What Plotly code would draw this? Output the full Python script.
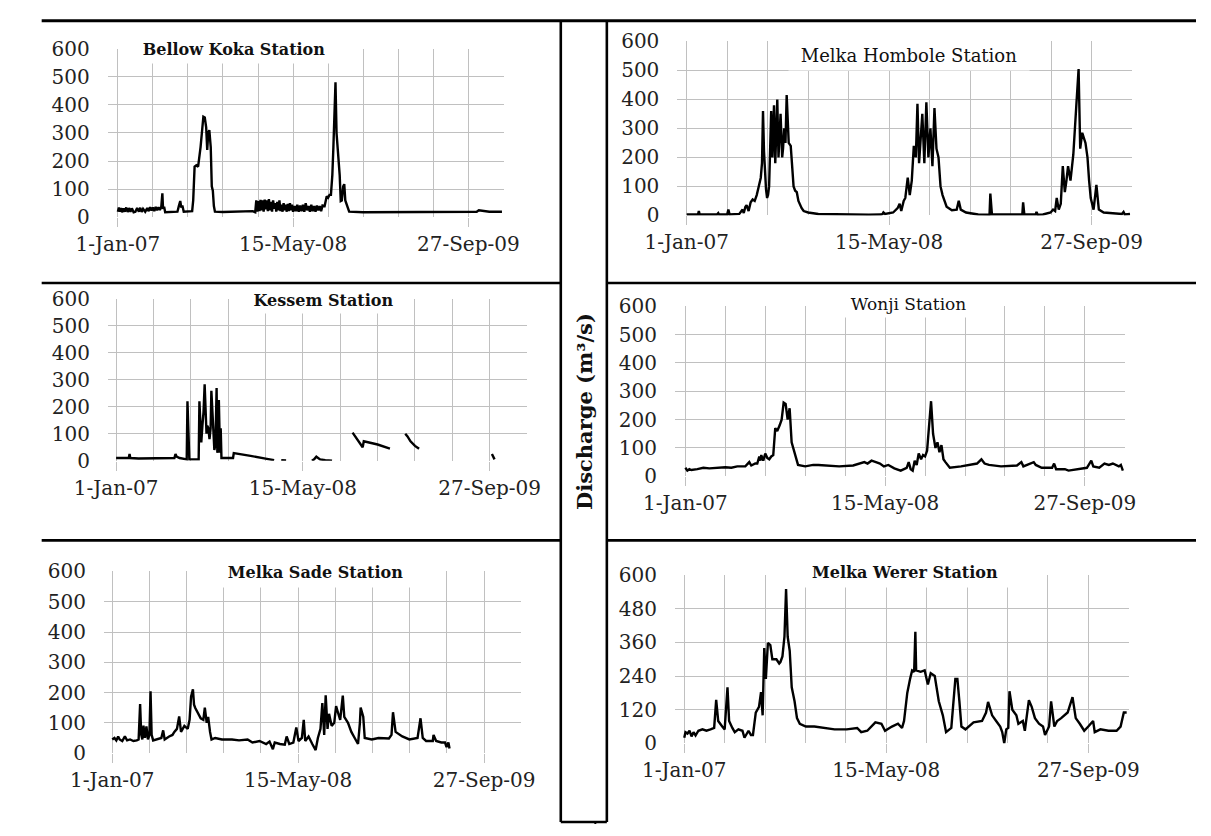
import plotly.graph_objects as go
import pandas as pd

W, H = 1211, 836
BASE = pd.Timestamp("2007-01-01")

# ---------------- data (day offset from 1-Jan-07, discharge m3/s) ----------------
koka_day = [0, 3, 6, 9, 12, 16, 20, 24, 28, 32, 36, 40, 45, 50, 55, 60, 64, 68, 72, 78, 84, 88, 92, 96, 100, 104,
            108, 112, 116, 120, 124, 127, 129, 132, 135, 150, 170, 174, 178, 181, 184, 188, 200, 212, 215, 217, 219,
            224, 229, 236, 241, 244, 248, 252, 255, 258, 261, 265, 268, 271, 274, 277, 300, 350, 385, 392, 395, 398,
            401, 404, 407, 410, 413, 416, 419, 422, 425, 428, 431, 434, 437, 440, 443, 446, 449, 452, 455, 458, 461,
            464, 467, 470, 473, 476, 479, 482, 485, 488, 491, 494, 497, 500, 504, 508, 512, 516, 520, 524, 528, 532,
            536, 540, 544, 548, 552, 556, 560, 564, 568, 572, 576, 580, 584, 590, 596, 600, 604, 608, 612, 615, 618,
            621, 624, 627, 630, 633, 636, 639, 643, 646, 649, 660, 700, 800, 900, 1000, 1024, 1030, 1060, 1096]
koka_q = [20, 35, 20, 33, 18, 32, 20, 35, 19, 33, 20, 32, 18, 20, 33, 20, 34, 19, 30, 20, 33, 22, 36, 24, 35, 22,
          37, 25, 36, 26, 38, 85, 30, 38, 18, 18, 20, 40, 58, 35, 42, 20, 20, 22, 60, 175, 180, 185, 180, 250, 330,
          358, 355, 320, 240, 300, 310, 250, 110, 95, 40, 20, 19, 20, 22, 18, 60, 20, 58, 22, 62, 25, 60, 20, 63, 28,
          60, 22, 65, 25, 55, 20, 60, 30, 50, 20, 55, 25, 60, 22, 45, 20, 50, 25, 45, 20, 48, 22, 50, 25, 45, 20, 40,
          22, 45, 20, 42, 22, 45, 20, 50, 25, 40, 20, 45, 22, 40, 20, 42, 25, 40, 22, 42, 40, 75, 70, 80, 80, 150,
          250, 420, 480, 300, 250, 230, 150, 58, 60, 110, 118, 60, 20, 18, 18, 18, 19, 20, 25, 20, 20, 18]

kessem_day = [0, 20, 34, 36, 38, 60, 100, 140, 156, 159, 162, 170, 186, 189, 191, 194, 196, 210, 221, 223, 226,
              228, 231, 234, 237, 240, 242, 244, 247, 250, 253, 255, 258, 260, 263, 266, 269, 271, 273, 275, 277,
              278, 280, 282, 300, 313, 315, 330, 360, 400, 423, 430, 442, 455, 490, 524, 530, 536, 540, 546, 560,
              578, 600, 633, 645, 660, 663, 700, 733, 750, 774, 780, 788, 800, 811, 900, 1006, 1010, 1013]
kessem_q = [10, 10, 10, 25, 10, 8, 8, 8, 10, 25, 15, 10, 8, 5, 220, 100, 5, 5, 5, 220, 100, 68, 130, 180, 283, 150,
            100, 130, 120, 80, 120, 259, 150, 110, 40, 60, 269, 30, 40, 225, 60, 30, 120, 10, 10, 10, 28, 25, 18, 8,
            2, None, 2, 1, None, 0, 5, 15, 10, 5, 2, 0, None, 104, 80, 50, 72, 60, 45, None, 100, 90, 72, 55, 44,
            None, 25, 15, 5]

sade_day = [0, 6, 11, 16, 20, 27, 34, 40, 48, 57, 66, 71, 75, 78, 81, 84, 88, 92, 96, 100, 103, 106, 110, 121, 132,
            137, 141, 153, 162, 167, 174, 180, 185, 194, 203, 208, 212, 217, 220, 223, 231, 238, 245, 249, 254, 258,
            263, 267, 277, 295, 322, 341, 364, 377, 396, 414, 423, 432, 437, 451, 464, 469, 476, 487, 495, 501, 510,
            515, 519, 528, 538, 547, 553, 560, 565, 570, 574, 579, 583, 590, 597, 602, 608, 613, 620, 624, 634, 643,
            652, 661, 666, 668, 675, 679, 698, 716, 744, 751, 755, 762, 780, 799, 821, 826, 829, 835, 844, 862, 864,
            871, 885, 895, 899, 904, 907]
sade_q = [45, 50, 42, 55, 45, 40, 55, 42, 45, 40, 42, 45, 162, 60, 45, 91, 50, 88, 45, 60, 204, 60, 42, 45, 50, 75,
          45, 55, 60, 70, 80, 121, 70, 90, 80, 110, 186, 211, 160, 150, 130, 115, 110, 150, 100, 120, 70, 45, 50, 45,
          45, 42, 45, 35, 40, 30, 38, 13, 35, 30, 28, 55, 30, 35, 85, 40, 50, 110, 40, 55, 30, 10, 50, 80, 165, 60,
          191, 80, 130, 90, 100, 155, 130, 110, 190, 120, 100, 70, 50, 30, 100, 150, 120, 50, 45, 50, 48, 60, 135,
          70, 55, 45, 50, 90, 115, 50, 40, 40, 60, 40, 35, 35, 20, 35, 15]

hombole_day = [0, 28, 30, 32, 75, 78, 80, 100, 103, 106, 130, 138, 141, 145, 148, 153, 158, 163, 168, 173, 178, 183,
               186, 188.5, 191, 193.5, 196, 198.6, 201, 203.6, 206, 208.7, 211.7, 215.7, 218.8, 221, 223.8, 226.8,
               229, 231.9, 235.9, 238, 240.9, 244, 247, 250, 252, 257, 260, 264, 268, 272, 276, 279, 284, 289, 300,
               325, 375, 450, 480, 484, 486, 490, 510, 516, 521, 526, 530, 536, 540, 546, 551, 556, 561, 566, 570,
               574, 578, 582, 587, 592, 597, 602, 607, 612, 617, 622, 627, 632, 642, 655, 667, 672, 677, 690, 720,
               748, 750, 754, 800, 829, 831, 834, 862, 864, 867, 880, 899, 905, 910, 914, 919, 924, 929, 934, 938,
               942, 948, 955, 962, 968, 972, 977, 985, 990, 994, 998, 1005, 1012, 1018, 1030, 1075, 1079, 1082, 1095]
hombole_q = [3, 3, 15, 3, 3, 8, 3, 3, 20, 3, 5, 20, 8, 30, 35, 15, 45, 55, 50, 70, 100, 130, 180, 360, 220, 150, 90,
             60, 70, 100, 200, 360, 200, 380, 180, 300, 400, 200, 250, 350, 200, 230, 300, 250, 415, 260, 250, 240,
             180, 100, 85, 80, 50, 40, 25, 15, 10, 5, 3, 2, 3, 5, 10, 5, 10, 20, 25, 40, 15, 50, 60, 130, 70, 120,
             240, 200, 385, 180, 250, 350, 180, 390, 200, 300, 170, 370, 230, 200, 100, 70, 30, 18, 20, 50, 20, 10,
             3, 2, 75, 3, 3, 3, 45, 3, 3, 12, 2, 3, 10, 20, 15, 60, 20, 40, 170, 80, 120, 170, 120, 210, 370, 505,
             230, 285, 250, 200, 120, 60, 20, 105, 20, 10, 5, 12, 3, 5]

wonji_day = [0, 5, 10, 15, 30, 45, 60, 80, 100, 115, 130, 150, 160, 165, 175, 180, 185, 188, 190, 195, 200, 205, 210,
             215, 220, 225, 230, 236, 241, 246, 251, 256, 261, 266, 272, 282, 300, 320, 333, 350, 385, 420, 436, 448,
             456, 466, 477, 487, 497, 508, 523, 539, 554, 559, 564, 569, 574, 579, 584, 590, 595, 600, 605, 610, 615,
             620, 626, 631, 636, 641, 646, 651, 662, 690, 730, 741, 749, 760, 790, 830, 841, 846, 866, 872, 877, 892,
             918, 923, 928, 950, 959, 985, 1005, 1016, 1021, 1036, 1049, 1060, 1070, 1085, 1090, 1095]
wonji_q = [30, 20, 25, 22, 25, 30, 28, 30, 32, 30, 35, 35, 50, 38, 45, 45, 70, 55, 75, 55, 80, 65, 60, 70, 75, 170,
           160, 180, 200, 260, 255, 200, 240, 120, 90, 40, 35, 40, 40, 38, 35, 38, 45, 50, 45, 55, 50, 45, 35, 40, 28,
           20, 30, 50, 25, 20, 55, 40, 81, 60, 75, 70, 90, 170, 265, 150, 100, 120, 85, 110, 60, 50, 30, 35, 45, 60,
           45, 40, 35, 38, 50, 35, 45, 50, 40, 30, 30, 45, 25, 25, 20, 25, 30, 55, 35, 30, 45, 40, 45, 35, 40, 20]

werer_day = [0, 3, 8, 13, 18, 23, 28, 35, 45, 55, 65, 74, 79, 84, 94, 100, 107, 111, 119, 125, 134, 144, 149, 159,
             165, 170, 177, 185, 190, 194, 198, 202, 207, 213, 218, 228, 235, 238, 243, 248, 252, 256, 261, 266, 273,
             279, 286, 301, 322, 342, 372, 402, 428, 438, 453, 473, 488, 497, 514, 529, 539, 544, 552, 559, 564, 569,
             572, 574, 585, 595, 603, 610, 620, 630, 640, 648, 661, 671, 676, 681, 686, 696, 716, 737, 747, 752, 762,
             772, 782, 787, 792, 797, 802, 805, 812, 822, 827, 838, 843, 853, 860, 868, 878, 888, 893, 903, 908, 916,
             923, 933, 949, 961, 969, 979, 990, 1000, 1012, 1016, 1030, 1050, 1070, 1080, 1088, 1095]
werer_q = [20, 40, 35, 45, 25, 40, 28, 45, 50, 45, 50, 55, 155, 80, 60, 50, 200, 80, 55, 40, 50, 45, 20, 45, 30, 30,
           110, 130, 183, 100, 340, 230, 358, 350, 300, 300, 285, 290, 310, 381, 550, 380, 330, 200, 150, 90, 70, 60,
           60, 55, 50, 50, 55, 40, 45, 75, 70, 45, 60, 70, 55, 80, 180, 230, 260, 255, 398, 260, 255, 260, 210, 250,
           240, 150, 100, 40, 55, 230, 230, 150, 60, 50, 75, 80, 110, 148, 100, 80, 60, 40, 0, 50, 55, 186, 120, 100,
           70, 80, 45, 154, 130, 90, 70, 60, 30, 60, 150, 60, 80, 90, 110, 165, 90, 70, 45, 60, 80, 40, 50, 45, 45,
           60, 110, 110]

y_ticks_std = [0, 100, 200, 300, 400, 500, 600]
y_ticks_werer = [0, 120, 240, 360, 480, 600]
x_tick_days = [0, 500, 1000]
x_tick_labels = ["1-Jan-07", "15-May-08", "27-Sep-09"]

# ---------------- layout config ----------------
SERIF = "DejaVu Serif"
GRID = "#c0c0c0"
DAY_MS = 86400000

panels = [
    dict(name="Bellow Koka Station", d=koka_day, q=koka_q, box=(76.8, 489.3, 37.7, 211.4), x0=-29,
         tbox=(105, 311, 24, 52), bold=True, tsize=16, yt=y_ticks_std),
    dict(name="Kessem Station", d=kessem_day, q=kessem_q, box=(77, 514, 295, 462), x0=-22,
         tbox=(221, 382, 285, 310), bold=True, tsize=16, yt=y_ticks_std),
    dict(name="Melka Sade Station", d=sade_day, q=sade_q, box=(73, 508, 576, 763), x0=-22,
         tbox=(198, 389, 563, 592), bold=True, tsize=16, yt=y_ticks_std),
    dict(name="Melka Hombole Station", d=hombole_day, q=hombole_q, box=(670.5, 1144.5, 30.3, 209.4), x0=-23,
         tbox=(792, 1032, 30, 59), bold=False, tsize=18, yt=y_ticks_std),
    dict(name="Wonji Station", d=wonji_day, q=wonji_q, box=(668, 1137, 303, 478), x0=-26,
         tbox=(840, 983, 287, 314), bold=False, tsize=17, yt=y_ticks_std),
    dict(name="Melka Werer Station", d=werer_day, q=werer_q, box=(668, 1141, 579.7, 753), x0=-23,
         tbox=(801, 1015, 562, 592), bold=True, tsize=16, yt=y_ticks_werer),
]

fig = go.Figure()
layout = dict(width=W, height=H, margin=dict(l=0, r=0, t=0, b=0), paper_bgcolor="white",
              plot_bgcolor="white", showlegend=False)
annotations = []

for i, p in enumerate(panels, start=1):
    l, r, t, b = p["box"]
    dates = BASE + pd.to_timedelta(p["d"], unit="D")
    fig.add_trace(go.Scatter(x=dates, y=p["q"], mode="lines", connectgaps=False,
                             line=dict(color="black", width=2.4), hoverinfo="skip",
                             xaxis=f"x{i}", yaxis=f"y{i}"))
    layout[f"xaxis{i}"] = dict(
        domain=[l / W, r / W], anchor=f"y{i}", type="date",
        range=[BASE + pd.Timedelta(days=p["x0"]), BASE + pd.Timedelta(days=1100.4)],
        tickmode="array", tickvals=[BASE + pd.Timedelta(days=v) for v in x_tick_days],
        ticktext=x_tick_labels, ticks="outside", ticklen=9, tickwidth=1.3, tickcolor=GRID,
        showgrid=True, gridcolor=GRID, gridwidth=1.3,
        minor=dict(tick0=BASE, dtick=100 * DAY_MS, showgrid=True, gridcolor=GRID, gridwidth=1.3, ticks=""),
        showline=False, zeroline=False, fixedrange=True,
        tickfont=dict(family=SERIF, size=20, color="#222222"))
    layout[f"yaxis{i}"] = dict(
        domain=[1 - b / H, 1 - t / H], anchor=f"x{i}", range=[0, 600],
        tickmode="array", tickvals=p["yt"], ticks="outside", ticklen=13, tickcolor="rgba(0,0,0,0)",
        showgrid=True, gridcolor=GRID, gridwidth=1.3, showline=False, zeroline=False, fixedrange=True,
        tickfont=dict(family=SERIF, size=20, color="#222222"))
    x0b, x1b, y0b, y1b = p["tbox"]
    annotations.append(dict(
        text=f"<b>{p['name']}</b>" if p["bold"] else p["name"],
        xref="paper", yref="paper", x=(x0b + x1b) / 2 / W, y=1 - (y0b + y1b) / 2 / H,
        xanchor="center", yanchor="middle", showarrow=False, width=x1b - x0b, height=y1b - y0b,
        bgcolor="white", borderpad=0, align="center", valign="middle",
        font=dict(family=SERIF, size=p["tsize"], color="#111111")))

annotations.append(dict(
    text="<b>Discharge (m³/s)</b>", xref="paper", yref="paper", x=573 / W, y=1 - 411 / H,
    xanchor="center", yanchor="middle", showarrow=False, textangle=-90,
    font=dict(family=SERIF, size=21, color="#111111")))


def hline(y, x0, x1, w=2.6):
    return dict(type="line", xref="paper", yref="paper", x0=x0 / W, x1=x1 / W, y0=1 - y / H, y1=1 - y / H,
                line=dict(color="black", width=w))


def vline(x, y0, y1, w=2.6):
    return dict(type="line", xref="paper", yref="paper", x0=x / W, x1=x / W, y0=1 - y0 / H, y1=1 - y1 / H,
                line=dict(color="black", width=w))


shapes = [
    hline(9, 8, 1211, 3),
    vline(549, 9, 834),
    vline(597, 9, 834),
    hline(834, 549, 597),
    vline(585, 834, 836, 2),
    hline(279, 8, 549), hline(279, 597, 1211),
    hline(544, 8, 549), hline(544, 597, 1211),
]

layout["annotations"] = annotations
layout["shapes"] = shapes
fig.update_layout(**layout)
fig.write_html("out.html")
